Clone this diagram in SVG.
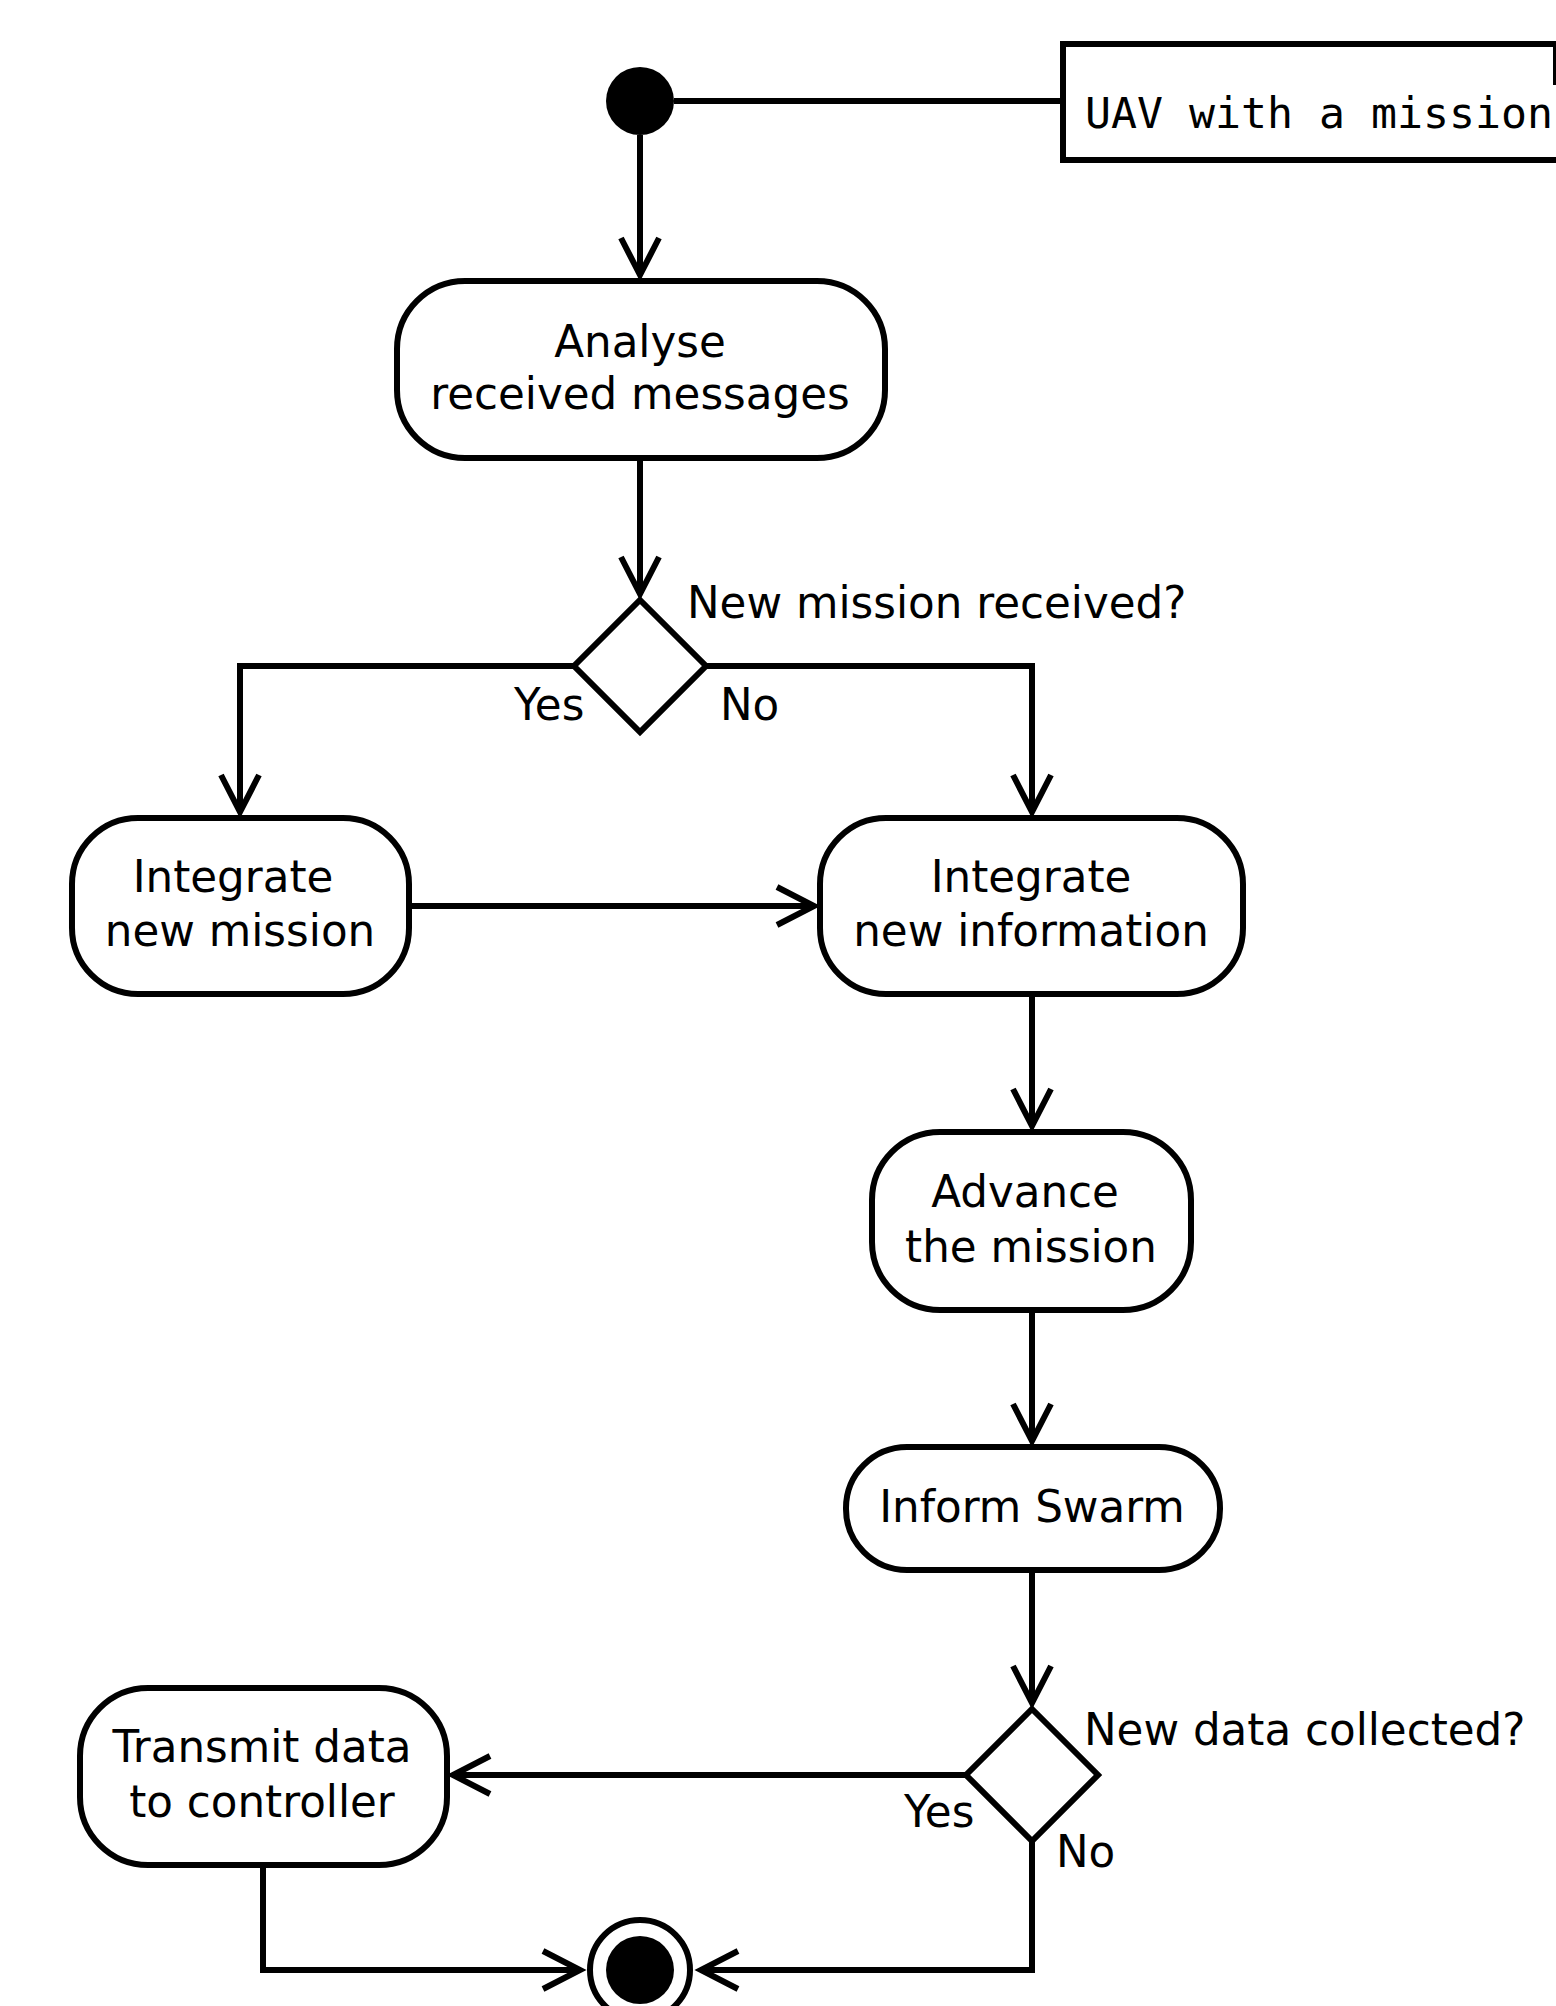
<svg xmlns="http://www.w3.org/2000/svg" width="1556" height="2006" viewBox="0 0 1556 2006">
<defs>
<style>
.node{fill:#fff;stroke:#000;stroke-width:6}
.edge{fill:none;stroke:#000;stroke-width:6;stroke-linejoin:miter}
.t{font-family:"DejaVu Sans","Liberation Sans",sans-serif;font-size:43.6px;fill:#000}
.c{text-anchor:middle}
.mono{font-family:"DejaVu Sans Mono","Liberation Mono",monospace;font-size:43.2px;fill:#000}
</style>
<marker id="arr" markerUnits="userSpaceOnUse" markerWidth="60" markerHeight="60" refX="0" refY="0" orient="auto" overflow="visible">
<path d="M-37,-19 L0,0 L-37,19" fill="none" stroke="#000" stroke-width="6" stroke-linejoin="miter"/>
</marker>
</defs>
<rect width="1556" height="2006" fill="#fff"/>
<g id="connectors">
<path class="edge" d="M674,101 H1063"/>
<path class="edge" d="M640,135 V275" marker-end="url(#arr)"/>
<path class="edge" d="M640,458 V594" marker-end="url(#arr)"/>
<path class="edge" d="M574,666 H240 V812" marker-end="url(#arr)"/>
<path class="edge" d="M706,666 H1032 V812" marker-end="url(#arr)"/>
<path class="edge" d="M409,906 H814" marker-end="url(#arr)"/>
<path class="edge" d="M1032,994 V1126" marker-end="url(#arr)"/>
<path class="edge" d="M1032,1310 V1441" marker-end="url(#arr)"/>
<path class="edge" d="M1032,1570 V1703" marker-end="url(#arr)"/>
<path class="edge" d="M966,1775 H453" marker-end="url(#arr)"/>
<path class="edge" d="M263,1865 V1970 H580" marker-end="url(#arr)"/>
<path class="edge" d="M1032,1841 V1970 H701" marker-end="url(#arr)"/>
</g>
<g id="start">
<circle cx="640" cy="101" r="34" fill="#000"/>
</g>
<g id="note">
<rect class="node" x="1063" y="44" width="600" height="116"/>
<line x1="1556" y1="44" x2="1556" y2="85" stroke="#000" stroke-width="6"/>
<text class="mono" x="1085" y="128">UAV with a mission</text>
</g>
<g id="analyse">
<rect class="node" x="397" y="281" width="488" height="177" rx="68" ry="68"/>
<text class="t c" x="640" y="357">Analyse</text>
<text class="t c" x="640" y="409">received messages</text>
</g>
<g id="decision1">
<polygon class="node" points="640,600 706,666 640,732 574,666"/>
<text class="t" x="687" y="618">New mission received?</text>
<text class="t" x="514" y="720">Yes</text>
<text class="t" x="720" y="720">No</text>
</g>
<g id="integrate-mission">
<rect class="node" x="72" y="818" width="337" height="176" rx="66" ry="66"/>
<text class="t c" x="233" y="892">Integrate</text>
<text class="t c" x="240" y="946">new mission</text>
</g>
<g id="integrate-information">
<rect class="node" x="820" y="818" width="423" height="176" rx="66" ry="66"/>
<text class="t c" x="1031" y="892">Integrate</text>
<text class="t c" x="1031" y="946">new information</text>
</g>
<g id="advance">
<rect class="node" x="872" y="1132" width="319" height="178" rx="68" ry="68"/>
<text class="t c" x="1025" y="1207">Advance</text>
<text class="t c" x="1031" y="1262">the mission</text>
</g>
<g id="inform">
<rect class="node" x="846" y="1447" width="374" height="123" rx="61" ry="61"/>
<text class="t c" x="1032" y="1522">Inform Swarm</text>
</g>
<g id="decision2">
<polygon class="node" points="1032,1709 1098,1775 1032,1841 966,1775"/>
<text class="t" x="1084" y="1745">New data collected?</text>
<text class="t" x="904" y="1827">Yes</text>
<text class="t" x="1056" y="1867">No</text>
</g>
<g id="transmit">
<rect class="node" x="80" y="1688" width="367" height="177" rx="68" ry="68"/>
<text class="t c" x="262" y="1762">Transmit data</text>
<text class="t c" x="262" y="1817">to controller</text>
</g>
<g id="end">
<circle cx="640" cy="1970" r="50" fill="#fff" stroke="#000" stroke-width="6"/>
<circle cx="640" cy="1970" r="34" fill="#000"/>
</g>
</svg>
